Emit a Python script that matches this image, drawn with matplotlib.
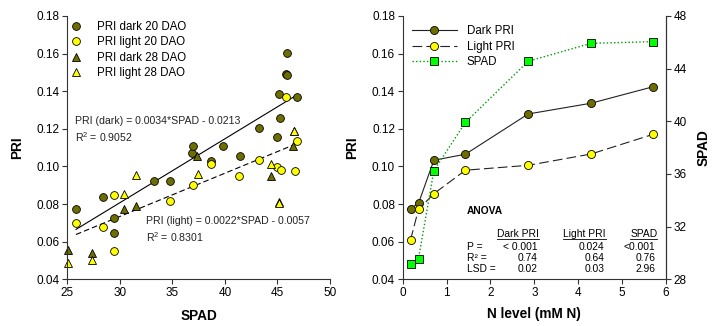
import matplotlib
matplotlib.use("Agg")
import matplotlib.pyplot as plt
import numpy as np

plt.rcParams['font.family'] = ['Liberation Sans', 'DejaVu Sans']
plt.rcParams['mathtext.fontset'] = 'custom'
plt.rcParams['mathtext.rm'] = 'Liberation Sans'
plt.rcParams['mathtext.it'] = 'Liberation Sans:italic'
plt.rcParams['lines.scale_dashes'] = False

# ---------------- Left panel data (SPAD vs PRI) ----------------
dark20_spad = [25.83, 28.43, 29.44, 29.44, 33.25, 34.77, 36.83, 36.93, 38.64, 39.78,
               41.40, 43.21, 44.98, 45.17, 45.27, 45.81, 45.86, 45.88, 46.88]
dark20_pri = [0.0772, 0.0839, 0.0724, 0.0647, 0.0922, 0.0922, 0.1073, 0.1110, 0.1029, 0.1108,
              0.1055, 0.1203, 0.1158, 0.1383, 0.1259, 0.1492, 0.1484, 0.1602, 0.1371]
light20_spad = [25.83, 28.43, 29.44, 29.44, 34.77, 36.99, 38.64, 41.37, 43.24, 44.98,
                45.30, 45.78, 46.64, 46.88]
light20_pri = [0.0700, 0.0676, 0.0848, 0.0550, 0.0814, 0.0901, 0.1011, 0.0950, 0.1034, 0.0998,
               0.0980, 0.1367, 0.0976, 0.1135]
dark28_spad = [25.10, 27.35, 30.40, 31.54, 37.37, 44.39, 45.18, 46.47, 46.54]
dark28_pri = [0.0555, 0.0541, 0.0775, 0.0791, 0.1057, 0.0949, 0.0809, 0.1108, 0.1190]
light28_spad = [25.10, 27.35, 30.40, 31.54, 37.40, 44.38, 45.18, 46.54]
light28_pri = [0.0489, 0.0502, 0.0852, 0.0952, 0.0958, 0.1013, 0.0804, 0.1188]

# regression lines as drawn (slope, intercept, x-range)
dark_fit = (0.0034, -0.0213)
dark_fit_range = (25.83, 46.88)
light_fit = (0.0023, 0.0044)
light_fit_range = (25.83, 46.47)

dark_eq = "PRI (dark) = 0.0034*SPAD - 0.0213"
dark_r2 = "R$^2$ = 0.9052"
light_eq = "PRI (light) = 0.0022*SPAD - 0.0057"
light_r2 = "R$^2$ = 0.8301"

# ---------------- Right panel data (N level) ----------------
n_level = [0.18, 0.36, 0.71, 1.43, 2.86, 4.29, 5.71]
dark_pri_n = [0.0776, 0.0804, 0.1033, 0.1065, 0.1279, 0.1336, 0.1424]
light_pri_n = [0.0611, 0.0772, 0.0855, 0.0980, 0.1006, 0.1066, 0.1171]
spad_n = [29.19, 29.57, 36.25, 39.92, 44.56, 45.92, 46.05]

anova_cols = ["Dark PRI", "Light PRI", "SPAD"]
anova_rows = ["P =", "R² =", "LSD ="]
anova_vals = [["< 0.001", "0.024", "<0.001"],
              ["0.74", "0.64", "0.76"],
              ["0.02", "0.03", "2.96"]]

OLIVE = '#6e6e00'
YELLOW = '#ffff00'
LIME = '#00ff00'
GREEN_LINE = '#009a00'
SPINE = '#333333'

fig = plt.figure(figsize=(7.12, 3.26), dpi=100)
axL = fig.add_axes([0.0945, 0.1433, 0.369, 0.8077])
axR = fig.add_axes([0.5656, 0.1433, 0.3698, 0.8077])

TICK_FS = 8.5
LEG_FS = 8.3

def style(ax):
    for s in ['top', 'right']:
        ax.spines[s].set_visible(False)
    for s in ax.spines.values():
        s.set_linewidth(0.8)
        s.set_color(SPINE)
    ax.tick_params(direction='out', length=3.5, width=0.8, color=SPINE,
                   labelsize=TICK_FS, pad=2)

# ---- left panel ----
style(axL)
mk = dict(markeredgecolor='black', markeredgewidth=0.6, linestyle='none', clip_on=False)
axL.plot(dark20_spad, dark20_pri, 'o', markerfacecolor=OLIVE, markersize=5.6, label='PRI dark 20 DAO', **mk)
axL.plot(light20_spad, light20_pri, 'o', markerfacecolor=YELLOW, markersize=5.6, label='PRI light 20 DAO', **mk)
axL.plot(dark28_spad, dark28_pri, '^', markerfacecolor=OLIVE, markersize=5.6, label='PRI dark 28 DAO', **mk)
axL.plot(light28_spad, light28_pri, '^', markerfacecolor=YELLOW, markersize=5.6, label='PRI light 28 DAO', **mk)

xd = np.array(dark_fit_range)
axL.plot(xd, dark_fit[0] * xd + dark_fit[1], color='black', lw=0.8, zorder=1)
xl = np.array(light_fit_range)
axL.plot(xl, light_fit[0] * xl + light_fit[1], color='black', lw=0.8,
         linestyle=(0, (4, 2.2)), zorder=1)

axL.text(25.73, 0.1243, dark_eq, fontsize=7.6, va='center', ha='left', color='#222222')
axL.text(25.73, 0.1158, dark_r2, fontsize=7.6, va='center', ha='left', color='#222222')
axL.text(32.45, 0.0711, light_eq, fontsize=7.6, va='center', ha='left', color='#222222')
axL.text(32.45, 0.0626, light_r2, fontsize=7.6, va='center', ha='left', color='#222222')

axL.set_xlim(25, 50)
axL.set_ylim(0.04, 0.18)
axL.set_xticks([25, 30, 35, 40, 45, 50])
axL.set_yticks(np.arange(0.04, 0.181, 0.02))
axL.yaxis.set_major_formatter(matplotlib.ticker.FormatStrFormatter('%.2f'))
axL.set_xlabel('SPAD', fontsize=9.8, fontweight='bold', labelpad=7)
axL.set_ylabel('PRI', fontsize=9.8, fontweight='bold', labelpad=9)
axL.legend(loc='upper left', bbox_to_anchor=(0.012, 0.98), frameon=False, fontsize=LEG_FS,
           handlelength=1.0, handletextpad=1.3, labelspacing=0.28, borderpad=0, borderaxespad=0,
           numpoints=1)

# ---- right panel ----
style(axR)
axR.spines['right'].set_visible(True)
ax2 = axR.twinx()
for s in ['top', 'left', 'bottom']:
    ax2.spines[s].set_visible(False)
ax2.spines['right'].set_linewidth(0.8)
ax2.spines['right'].set_color(SPINE)
ax2.tick_params(direction='out', length=3.5, width=0.8, color=SPINE, labelsize=TICK_FS, pad=2)

l1, = axR.plot(n_level, dark_pri_n, '-o', color='#222222', lw=0.8, markerfacecolor=OLIVE,
               markeredgecolor='black', markeredgewidth=0.6, markersize=5.8, label='Dark PRI', clip_on=False)
l2, = axR.plot(n_level, light_pri_n, '-o', color='#222222', lw=0.8, linestyle=(0, (7, 3)),
               markerfacecolor=YELLOW, markeredgecolor='black', markeredgewidth=0.6, markersize=5.8,
               label='Light PRI', clip_on=False)
l3, = ax2.plot(n_level, spad_n, '-s', color=GREEN_LINE, lw=1.0, linestyle=(0, (1, 1.6)),
               markerfacecolor=LIME, markeredgecolor='black', markeredgewidth=0.6, markersize=5.2,
               label='SPAD', clip_on=False)

axR.set_xlim(0, 6)
axR.set_ylim(0.04, 0.18)
axR.set_xticks(range(0, 7))
axR.set_yticks(np.arange(0.04, 0.181, 0.02))
axR.yaxis.set_major_formatter(matplotlib.ticker.FormatStrFormatter('%.2f'))
ax2.set_ylim(28, 48)
ax2.set_yticks(range(28, 49, 4))
axR.set_xlabel('N level (mM N)', fontsize=9.8, fontweight='bold', labelpad=6)
axR.set_ylabel('PRI', fontsize=9.8, fontweight='bold', labelpad=9)
ax2.set_ylabel('SPAD', fontsize=9.8, fontweight='bold', labelpad=7)

axR.legend(handles=[l1, l2, l3], loc='upper left', bbox_to_anchor=(0.034, 0.965), frameon=False,
           fontsize=LEG_FS, handlelength=3.9, handletextpad=0.9, labelspacing=0.3,
           borderpad=0, borderaxespad=0, numpoints=1)

# ANOVA table
TFS = 7.4
axR.text(1.47, 0.0765, 'ANOVA', fontsize=TFS, fontweight='bold', va='center', ha='left')
col_x = [3.08, 4.60, 5.76]
head_x = [3.10, 4.63, 5.80]
head_y = 0.0639
row_y = [0.0574, 0.0512, 0.0453]
heads = []
for cx, name in zip(head_x, anova_cols):
    heads.append(axR.text(cx, head_y, name, fontsize=TFS, va='center', ha='right'))
for ry, rname, vals in zip(row_y, anova_rows, anova_vals):
    axR.text(1.47, ry, rname, fontsize=TFS, va='center', ha='left')
    for cx, v in zip(col_x, vals):
        axR.text(cx, ry, v, fontsize=TFS, va='center', ha='right')

fig.canvas.draw()
inv = axR.transData.inverted()
for t in heads:
    bb = t.get_window_extent()
    (x0, y0), (x1, y1) = inv.transform([[bb.x0, bb.y0], [bb.x1, bb.y0]])
    axR.plot([x0, x1], [y0 + 0.0004, y1 + 0.0004], color='black', lw=0.6)

fig.savefig('out.png', dpi=100)
